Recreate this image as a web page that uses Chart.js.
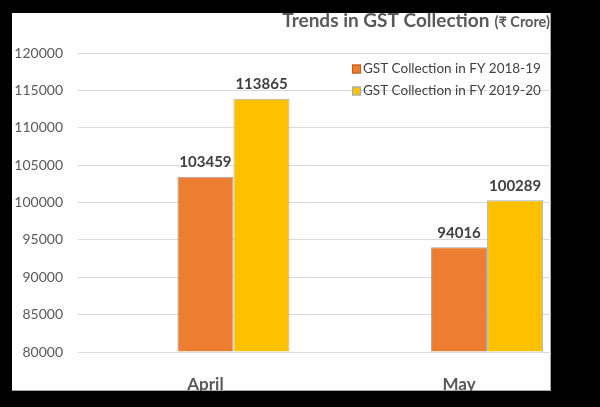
<!DOCTYPE html>
<html>
<head>
<meta charset="utf-8">
<script src="https://cdn.jsdelivr.net/npm/chart.js@4.4.0/dist/chart.umd.min.js"></script>
<style>
  html, body { margin: 0; padding: 0; background: #000; }
  #panel { position: absolute; left: 12px; top: 13px; width: 539px; height: 378px; background: #fff; box-shadow: inset -1px -1px 0 #A6A6A6; }
</style>
</head>
<body>
<div id="panel"><canvas id="gstChart" width="539" height="378"></canvas></div>
<script>
// Данные
const months = ["April", "May"];
const fy1819 = [103459, 94016];
const fy1920 = [113865, 100289];
const seriesNames = ["GST Collection in FY 2018-19", "GST Collection in FY 2019-20"];
const seriesColors = ["#ED7D31", "#FFC000"];
const yMin = 80000;
const yMax = 120000;
const yStep = 5000;

const FONT = "Lato, 'Open Sans', sans-serif";
Chart.defaults.font.family = FONT;

// Заголовок
const titlePlugin = {
  id: "titlePlugin",
  afterDraw(chart) {
    const ctx = chart.ctx;
    ctx.save();
    ctx.textBaseline = "alphabetic";
    ctx.textAlign = "right";
    ctx.fillStyle = "#595959";
    ctx.font = "bold 14.5px " + FONT;
    const right = 538;
    ctx.fillText("(₹ Crore)", right, 14);
    const w = ctx.measureText("(₹ Crore)").width;
    ctx.font = "bold 19px " + FONT;
    ctx.fillText("Trends in GST Collection", right - w - 5, 14);
    ctx.restore();
  }
};

// Легенда
const legendPlugin = {
  id: "legendPlugin",
  afterDraw(chart) {
    const ctx = chart.ctx;
    ctx.save();
    ctx.font = "13.5px " + FONT;
    ctx.textBaseline = "middle";
    ctx.textAlign = "left";
    chart.data.datasets.forEach((ds, i) => {
      const y = 56 + i * 22;
      ctx.fillStyle = ds.backgroundColor;
      ctx.fillRect(340, y - 4.5, 9, 9);
      ctx.strokeStyle = i === 0 ? "#C55A11" : "#8FAADC";
      ctx.lineWidth = 1;
      ctx.strokeRect(340.5, y - 4, 8, 8);
      ctx.fillStyle = "#404040";
      ctx.fillText(ds.label, 351, y);
    });
    ctx.restore();
  }
};

// Подписи значений
const valueLabels = {
  id: "valueLabels",
  afterDatasetsDraw(chart) {
    const ctx = chart.ctx;
    ctx.save();
    ctx.font = "bold 15px " + FONT;
    ctx.fillStyle = "#404040";
    ctx.textAlign = "center";
    ctx.textBaseline = "bottom";
    chart.data.datasets.forEach((ds, di) => {
      chart.getDatasetMeta(di).data.forEach((bar, i) => {
        ctx.fillText(ds.data[i].y, bar.x, bar.y - 7);
      });
    });
    ctx.restore();
  }
};

const ctx = document.getElementById("gstChart").getContext("2d");

new Chart(ctx, {
  type: "bar",
  data: {
    datasets: [
      {
        label: seriesNames[0],
        data: months.map((m, i) => ({ x: i, y: fy1819[i] })),
        backgroundColor: seriesColors[0],
        borderColor: "#A6A6A6",
        borderWidth: 1,
        base: yMin,
      },
      {
        label: seriesNames[1],
        data: months.map((m, i) => ({ x: i, y: fy1920[i] })),
        backgroundColor: seriesColors[1],
        borderColor: "#9DB4CC",
        borderWidth: 1,
        base: yMin,
      },
    ],
  },
  options: {
    responsive: false,
    animation: false,
    categoryPercentage: 0.442,
    barPercentage: 1.0,
    layout: { padding: { top: 40, left: 0, right: 0, bottom: 0 } },
    scales: {
      x: {
        type: "linear",
        offset: false,
        min: -0.613,
        max: 1.252,
        grid: { display: false, offset: false },
        border: { display: false },
        afterBuildTicks: (scale) => {
          scale.ticks = months.map((m, i) => ({ value: i }));
        },
        afterFit: (scale) => {
          scale.height = 39;
        },
        ticks: {
          callback: (value) => months[value],
          labelOffset: -28,
          padding: 14,
          color: "#595959",
          font: { size: 17, weight: "bold" },
          maxRotation: 0,
        },
      },
      y: {
        min: yMin,
        max: yMax,
        grid: { color: "#D9D9D9", drawTicks: false },
        border: { display: false },
        afterFit: (scale) => {
          scale.width = 66;
        },
        ticks: {
          stepSize: yStep,
          padding: 15,
          color: "#595959",
          font: { size: 14 },
          callback: (value) => String(value),
        },
      },
    },
    plugins: {
      legend: { display: false },
      tooltip: { enabled: false },
    },
  },
  plugins: [titlePlugin, legendPlugin, valueLabels],
});
</script>
</body>
</html>
